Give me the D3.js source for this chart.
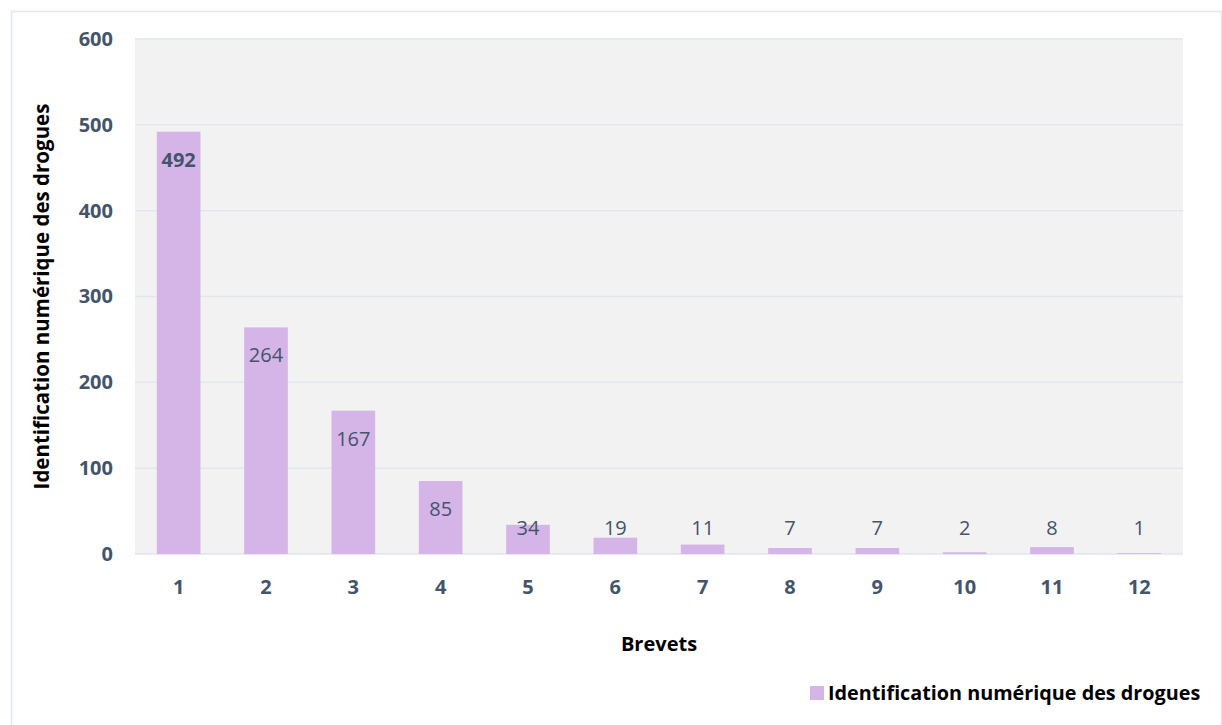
<!DOCTYPE html>
<html>
<head>
<meta charset="utf-8">
<script src="https://cdn.jsdelivr.net/npm/d3@7"></script>
<style>
  body { margin: 0; background: #fff; }
  text { font-family: "Open Sans", "Noto Sans", sans-serif; }
</style>
</head>
<body>
<svg id="chart" width="1222" height="725"></svg>
<script>
// data
const categories = ["1", "2", "3", "4", "5", "6", "7", "8", "9", "10", "11", "12"];
const values = [492, 264, 167, 85, 34, 19, 11, 7, 7, 2, 8, 1];
const yTicks = [0, 100, 200, 300, 400, 500, 600];
const seriesName = "Identification numérique des drogues";

const W = 1222, H = 725;
const margin = { left: 135, right: 39, top: 39, bottom: 171 };
const TXT = "#44546a", BAR = "#d5b5e8";

const svg = d3.select("#chart");

// outer frame
svg.append("rect")
    .attr("x", 11.5).attr("y", 11.5)
    .attr("width", W - 12).attr("height", H)
    .attr("fill", "#fff").attr("stroke", "#e3e6ee").attr("stroke-width", 1.5);

const x = d3.scaleBand().domain(categories)
    .range([margin.left, W - margin.right]).paddingInner(0.5).paddingOuter(0.25);
const y = d3.scaleLinear().domain([0, 600]).range([H - margin.bottom, margin.top]);

// plot background
svg.append("rect")
    .attr("x", margin.left).attr("y", margin.top)
    .attr("width", W - margin.left - margin.right)
    .attr("height", H - margin.top - margin.bottom)
    .attr("fill", "#f2f2f2");

// gridlines
svg.append("g").selectAll("line").data(yTicks).join("line")
    .attr("x1", margin.left).attr("x2", W - margin.right)
    .attr("y1", d => y(d)).attr("y2", d => y(d))
    .attr("stroke", "#e1e5ee").attr("stroke-width", 1.5);

// y axis
const yAxis = svg.append("g")
    .attr("transform", `translate(${margin.left - 22},0)`)
    .call(d3.axisLeft(y).tickValues(yTicks).tickSize(0).tickPadding(0));
yAxis.select(".domain").remove();
yAxis.selectAll("text")
    .attr("fill", TXT).attr("font-size", "20px").attr("font-weight", "bold");

// x axis
const xAxis = svg.append("g")
    .attr("transform", `translate(0,${y(0) + 26})`)
    .call(d3.axisBottom(x).tickSize(0).tickPadding(0));
xAxis.select(".domain").remove();
xAxis.selectAll("text")
    .attr("fill", TXT).attr("font-size", "20px").attr("font-weight", "bold")
    .attr("dy", "0.71em");

// bars
svg.append("g").selectAll("rect").data(values).join("rect")
    .attr("x", (d, i) => x(categories[i]))
    .attr("width", x.bandwidth())
    .attr("y", d => y(d))
    .attr("height", d => y(0) - y(d))
    .attr("fill", BAR);

// value labels
svg.append("g").selectAll("text").data(values).join("text")
    .attr("x", (d, i) => x(categories[i]) + x.bandwidth() / 2)
    .attr("y", d => Math.min(y(d) + 28, y(0) - 26))
    .attr("dy", "0.35em")
    .attr("text-anchor", "middle")
    .attr("fill", TXT)
    .attr("font-size", "20px")
    .attr("font-weight", (d, i) => i === 0 ? "bold" : "normal")
    .text(d => d);

// axis titles
svg.append("text")
    .attr("x", (margin.left + W - margin.right) / 2).attr("y", 644)
    .attr("dy", "0.35em")
    .attr("text-anchor", "middle")
    .attr("font-size", "20px").attr("font-weight", "bold").attr("fill", "#000")
    .text("Brevets");

svg.append("text")
    .attr("transform", `translate(42,${(margin.top + y(0)) / 2}) rotate(-90)`)
    .attr("dy", "0.35em")
    .attr("text-anchor", "middle")
    .attr("font-size", "20.5px").attr("font-weight", "bold").attr("fill", "#000")
    .text(seriesName);

// legend
const lg = svg.append("g").attr("transform", "translate(810,686)");
lg.append("rect").attr("width", 14).attr("height", 14).attr("fill", BAR);
lg.append("text").attr("x", 18).attr("y", 7).attr("dy", "0.35em")
    .attr("font-size", "19.8px").attr("font-weight", "bold").attr("fill", "#000")
    .text(seriesName);
</script>
</body>
</html>
